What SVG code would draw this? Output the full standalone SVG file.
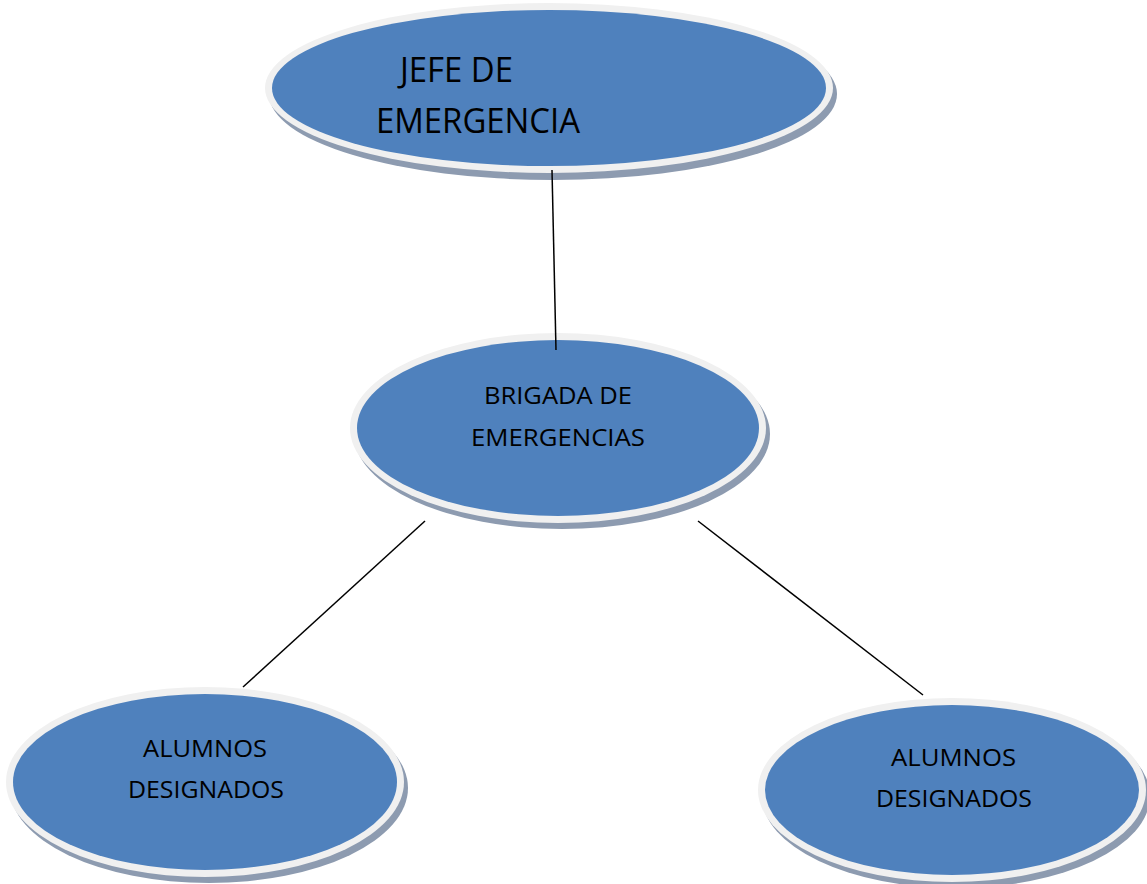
<svg xmlns="http://www.w3.org/2000/svg" width="1147" height="884" viewBox="0 0 1147 884">
<style>
.sh{fill:#8d9bb0}
.ring{fill:#f0f0f0}
.body{fill:#4f81bd}
.t{font-family:"Open Sans","Liberation Sans",sans-serif;fill:#000}
.conn line{stroke:#000;stroke-width:1.5}
</style>
<rect width="1147" height="884" fill="#fff"/>
<g id="jefe">
<ellipse class="sh" cx="553" cy="94" rx="284" ry="86"/>
<ellipse class="ring" cx="549" cy="88" rx="284" ry="85"/>
<ellipse class="body" cx="549" cy="88" rx="277" ry="78"/>
<text class="t" x="400" y="82" font-size="35" textLength="113" lengthAdjust="spacingAndGlyphs">JEFE DE</text>
<text class="t" x="376" y="133" font-size="35" textLength="204" lengthAdjust="spacingAndGlyphs">EMERGENCIA</text>
</g>
<g id="brigada">
<ellipse class="sh" cx="562" cy="434" rx="208" ry="95"/>
<ellipse class="ring" cx="558" cy="428" rx="208" ry="95"/>
<ellipse class="body" cx="558" cy="428" rx="201" ry="88"/>
<text class="t" x="484" y="404" font-size="24" textLength="148" lengthAdjust="spacingAndGlyphs">BRIGADA DE</text>
<text class="t" x="471" y="446" font-size="24" textLength="174" lengthAdjust="spacingAndGlyphs">EMERGENCIAS</text>
</g>
<g id="alumnos1">
<ellipse class="sh" cx="209" cy="788" rx="199" ry="95"/>
<ellipse class="ring" cx="205" cy="782" rx="199" ry="95"/>
<ellipse class="body" cx="205" cy="782" rx="192" ry="88"/>
<text class="t" x="143" y="757" font-size="24" textLength="124" lengthAdjust="spacingAndGlyphs">ALUMNOS</text>
<text class="t" x="128" y="798" font-size="24" textLength="156" lengthAdjust="spacingAndGlyphs">DESIGNADOS</text>
</g>
<g id="alumnos2">
<ellipse class="sh" cx="956" cy="796" rx="194" ry="92"/>
<ellipse class="ring" cx="952" cy="790" rx="194" ry="92"/>
<ellipse class="body" cx="952" cy="790" rx="187" ry="85"/>
<text class="t" x="891" y="766" font-size="24" textLength="125" lengthAdjust="spacingAndGlyphs">ALUMNOS</text>
<text class="t" x="876" y="807" font-size="24" textLength="156" lengthAdjust="spacingAndGlyphs">DESIGNADOS</text>
</g>
<g class="conn" id="connectors">
<line x1="552" y1="170" x2="556" y2="350"/>
<line x1="425" y1="521" x2="243" y2="687"/>
<line x1="698" y1="521" x2="923" y2="695"/>
</g>
</svg>
